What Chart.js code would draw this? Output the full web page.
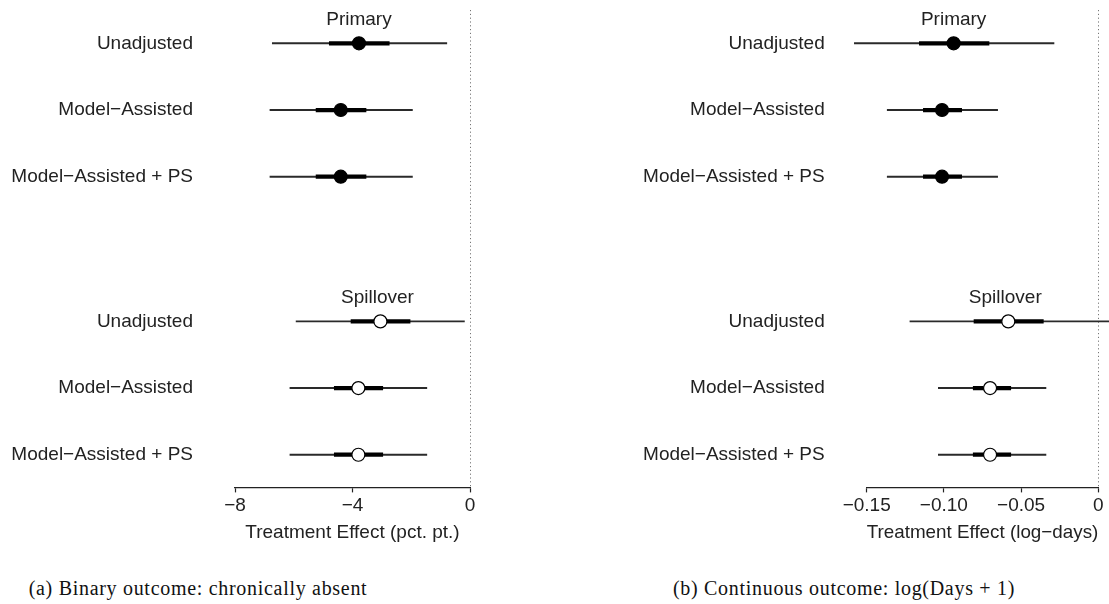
<!DOCTYPE html>
<html>
<head>
<meta charset="utf-8">
<script src="https://cdn.jsdelivr.net/npm/chart.js@4/dist/chart.umd.min.js"></script>
<style>
  html, body { margin: 0; padding: 0; background: #fff; }
  #wrap { position: relative; width: 1109px; height: 604px; overflow: hidden; }
  canvas { position: absolute; top: 0; }
  #binary-chart { left: 0; }
  #cont-chart { left: 555px; }
  .caption { position: absolute; top: 578px; width: 420px; text-align: center; font-family: "Liberation Serif", serif; font-size: 20px; line-height: 20px; letter-spacing: 0.7px; color: #111; white-space: nowrap; }
</style>
</head>
<body>
<div id="wrap">
  <canvas id="binary-chart" width="555" height="548"></canvas>
  <canvas id="cont-chart" width="554" height="548"></canvas>
  <div class="caption" style="left:-12px">(a) Binary outcome: chronically absent</div>
  <div class="caption" style="left:634px">(b) Continuous outcome: log(Days + 1)</div>
</div>
<script>
	/** 행 이름, 그룹 **/
	const rowLabels = ['Unadjusted', 'Model−Assisted', 'Model−Assisted + PS', 'Unadjusted', 'Model−Assisted', 'Model−Assisted + PS'];
	const rowPos = [1, 2, 3, 5.17, 6.17, 7.17];
	const groupNames = ['Primary', 'Spillover'];
	const groupStart = [0, 3];
	const filled = [true, true, true, false, false, false];

	/** (a) 이진 결과 (pct. pt.) **/
	const binEst  = [-3.78, -4.40, -4.40, -3.05, -3.80, -3.80];
	const binLo95 = [-6.73, -6.81, -6.81, -5.92, -6.13, -6.13];
	const binHi95 = [-0.79, -1.96, -1.96, -0.19, -1.47, -1.47];
	const binLoIn = [-4.79, -5.24, -5.24, -4.05, -4.62, -4.62];
	const binHiIn = [-2.75, -3.54, -3.54, -2.04, -2.97, -2.97];
	const binTicks = [-8, -4, 0];

	/** (b) 연속 결과 (log-days) **/
	const contEst  = [-0.0937, -0.1012, -0.1012, -0.0583, -0.0701, -0.0701];
	const contLo95 = [-0.158, -0.1367, -0.1367, -0.122, -0.1036, -0.1036];
	const contHi95 = [-0.0287, -0.0652, -0.0652, 0.008, -0.0339, -0.0339];
	const contLoIn = [-0.1159, -0.1133, -0.1133, -0.0805, -0.081, -0.081];
	const contHiIn = [-0.0708, -0.0885, -0.0885, -0.0356, -0.0567, -0.0567];
	const contTicks = [-0.15, -0.10, -0.05, 0];

	/** 공통 **/
	const sans = {family: '"Liberation Sans", Arial, sans-serif', size: 19};
	const textColor = '#222';

	const groupTitles = {
		id: 'groupTitles',
		afterDatasetsDraw(chart, args, opts) {
			const ctx = chart.ctx;
			const x = chart.scales.x, y = chart.scales.y;
			ctx.save();
			ctx.font = '19px ' + sans.family;
			ctx.fillStyle = textColor;
			ctx.textAlign = 'center';
			ctx.textBaseline = 'middle';
			groupNames.forEach(function(name, g) {
				let i = groupStart[g];
				ctx.fillText(name, x.getPixelForValue(opts.est[i]) - 3 * g, y.getPixelForValue(rowPos[i]) - 24);
			});
			ctx.restore();
		}
	};

	function makeChart(canvasId, est, lo95, hi95, loIn, hiIn, ticks, xTitle, fmt, yWidth, padRight) {
		return new Chart(document.getElementById(canvasId), {
			type: 'bar',
			data: {
				datasets: [{
					data: rowPos.map((r, i) => ({y: r, x: [lo95[i], hi95[i]]})),
					backgroundColor: '#2a2a2a',
					barThickness: 1.3,
					maxBarThickness: 1.3,
					grouped: false,
					clip: false,
					order: 2
				}, {
					data: rowPos.map((r, i) => ({y: r, x: [loIn[i], hiIn[i]]})),
					backgroundColor: '#000',
					barThickness: 3.6,
					maxBarThickness: 3.6,
					grouped: false,
					clip: false,
					order: 1
				}, {
					type: 'scatter',
					data: rowPos.map((r, i) => ({x: est[i], y: r})),
					pointRadius: 6.5,
					pointBackgroundColor: filled.map(f => f ? '#000' : '#fff'),
					pointBorderColor: '#000',
					pointBorderWidth: 1.2,
					clip: false,
					order: 0
				}]
			},
			options: {
				indexAxis: 'y',
				responsive: false,
				animation: false,
				events: [],
				layout: {padding: {top: 10, right: padRight, bottom: 0, left: 0}},
				plugins: {
					legend: {display: false},
					tooltip: {enabled: false},
					groupTitles: {est: est}
				},
				scales: {
					y: {
						type: 'linear',
						reverse: true,
						min: 0.5,
						max: 7.66,
						offset: false,
						grid: {display: false, drawTicks: false, offset: false},
						border: {display: false},
						afterBuildTicks: axis => { axis.ticks = rowPos.map(v => ({value: v})); },
						afterFit: axis => {
							axis.width = yWidth;
							axis.paddingTop = 0;
							axis.paddingBottom = 0;
						},
						ticks: {
							autoSkip: false,
							padding: 42,
							color: textColor,
							font: sans,
							callback: (v, i) => rowLabels[i]
						}
					},
					x: {
						type: 'linear',
						min: ticks[0],
						max: ticks[ticks.length - 1],
						afterBuildTicks: axis => { axis.ticks = ticks.map(v => ({value: v})); },
						grid: {
							color: c => (c.tick && c.tick.value === 0) ? '#777' : 'rgba(0,0,0,0)',
							lineWidth: 1,
							drawTicks: true,
							tickLength: 5,
							tickColor: '#222',
							tickWidth: 1.2
						},
						border: {display: true, color: '#222', width: 1.3, dash: [1.2, 2.6]},
						ticks: {
							autoSkip: false,
							maxRotation: 0,
							padding: 2,
							color: textColor,
							font: sans,
							callback: fmt
						},
						title: {
							display: true,
							text: xTitle,
							color: textColor,
							font: sans,
							padding: {top: 2, bottom: 4}
						}
					}
				}
			},
			plugins: [groupTitles]
		});
	}

	let binaryChart = makeChart('binary-chart', binEst, binLo95, binHi95, binLoIn, binHiIn, binTicks,
		'Treatment Effect (pct. pt.)', v => v === 0 ? '0' : '−' + Math.abs(v), 235, 85);

	let contChart = makeChart('cont-chart', contEst, contLo95, contHi95, contLoIn, contHiIn, contTicks,
		'Treatment Effect (log−days)', v => v === 0 ? '0' : '−' + Math.abs(v).toFixed(2), 311.7, 10.7);
</script>
</body>
</html>
